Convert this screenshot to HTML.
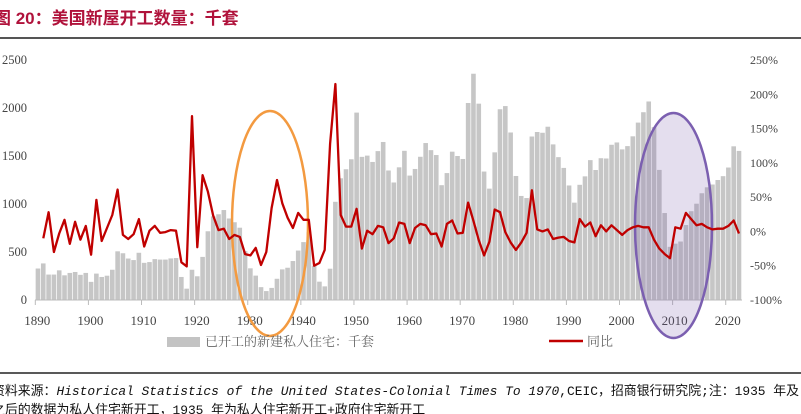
<!DOCTYPE html>
<html><head><meta charset="utf-8">
<style>
body{margin:0;width:801px;height:414px;overflow:hidden;background:#fff;font-family:"Liberation Serif","Noto Serif CJK SC",serif;}
svg{position:absolute;left:0;top:0}
</style></head>
<body>
<svg width="801" height="414" id="chart">
<text x="-6" y="24" font-size="17" font-weight="bold" fill="#b0123b" font-family="'Liberation Sans','Noto Sans CJK SC',sans-serif">图 20：美国新屋开工数量：千套</text>
<line x1="0" y1="38" x2="801" y2="38" stroke="#555" stroke-width="2"/>
<line x1="0" y1="373" x2="801" y2="373" stroke="#222" stroke-width="1.5"/>
<g id="bars"></g><g id="axes"></g>
<ellipse cx="270" cy="223.5" rx="38" ry="112.5" fill="none" stroke="#f39a40" stroke-width="2.5"/>
<ellipse cx="673.5" cy="225.5" rx="38.5" ry="112.5" fill="rgba(120,90,170,0.2)" stroke="#7b5fb0" stroke-width="2.5"/>
<g id="line"></g>
<rect x="167" y="337" width="33" height="10" fill="#c3c3c3"/>
<text x="205" y="346" font-size="13" fill="#666" font-family="'Liberation Serif','Noto Serif CJK SC',serif">已开工的新建私人住宅：千套</text>
<line x1="549" y1="341" x2="583" y2="341" stroke="#c00000" stroke-width="2.5"/>
<text x="587" y="346" font-size="13" fill="#666" font-family="'Liberation Serif','Noto Serif CJK SC',serif">同比</text>
<text x="-8" y="395" font-size="12.9" fill="#111" font-family="'Liberation Mono','Noto Sans CJK SC',monospace">资料来源：<tspan font-style="italic">Historical Statistics of the United States-Colonial Times To 1970</tspan>,CEIC，招商银行研究院;注：1935 年及</text>
<text x="-8" y="414" font-size="12.9" fill="#111" font-family="'Liberation Mono','Noto Sans CJK SC',monospace">之后的数据为私人住宅新开工，1935 年为私人住宅新开工+政府住宅新开工</text>
</svg>
<script>
const firstYear = 1890;
const starts = [328,381,265,265,309,257,282,292,262,282,189,275,240,253,315,507,487,432,416,492,387,395,426,421,421,433,437,240,118,315,247,449,716,871,893,937,849,810,753,509,330,254,134,93,126,221,319,336,406,515,603,706,356,191,142,326,1023,1268,1362,1466,1952,1491,1504,1438,1551,1646,1349,1224,1382,1554,1296,1365,1492,1635,1561,1510,1196,1322,1545,1500,1469,2052,2357,2045,1338,1160,1538,1987,2020,1745,1292,1084,1062,1703,1750,1742,1805,1621,1488,1376,1193,1014,1200,1288,1457,1354,1477,1474,1617,1641,1569,1603,1705,1848,1956,2068,1801,1355,906,554,587,609,781,925,1003,1112,1174,1203,1250,1290,1380,1601,1553];
const yoyFirstYear = 1891;
const yoy = [-10,28,-30,-3,17,-18,14,-12,8,-34,46,-14,5,24,61,-5,-11,-4,18,-22,1,8,-2,-1,2,1,-45,-51,168,-23,82,58,23,2,4,-11,-5,-8,-33,-35,-24,-49,-30,34,75,41,20,5,27,17,17,-50,-46,-27,128,215,24,7,7,33,-25,1,-4,8,6,-17,-10,13,11,-17,5,11,9,-4,-3,-22,11,16,-3,-2,42,15,-13,-35,-15,32,28,-1,-16,-27,-16,-2,60,3,0,3,-11,-9,-8,-14,-16,18,7,13,-7,9,0,9,2,-5,2,6,8,6,6,-12,-25,-33,-39,6,4,27,18,9,11,6,3,4,4,8,16,-3];
const leftTicks = [0,500,1000,1500,2000,2500];
const rightTicks = ["-100%","-50%","0%","50%","100%","150%","200%","250%"];
const rightVals = [-100,-50,0,50,100,150,200,250];
const xTicks = [1890,1900,1910,1920,1930,1940,1950,1960,1970,1980,1990,2000,2010,2020];

const NS="http://www.w3.org/2000/svg";
const y0=300, yTop=60;
const xOf = yr => 35.3 + (yr-1890)*5.311;
const yL = v => y0 - v*(y0-yTop)/2500;
const yR = v => y0 - (v+100)*(y0-yTop)/350;
function mk(tag, attrs, parent){const e=document.createElementNS(NS,tag);for(const k in attrs)e.setAttribute(k,attrs[k]);parent.appendChild(e);return e;}
const gb=document.getElementById('bars'), ga=document.getElementById('axes'), gl=document.getElementById('line');
starts.forEach((v,i)=>{
  const yr=firstYear+i, cx=xOf(yr+0.5);
  const r=mk('rect',{x:cx-2.3,y:yL(v),width:4.6,height:y0-yL(v),fill:'#c6c6c6'},gb);
  
  
});
const ax=mk('line',{x1:35,y1:y0,x2:742,y2:y0,stroke:'#bbb','stroke-width':1},ga);


xTicks.forEach(t=>{
  const x=xOf(t);
  const tk=mk('line',{x1:x,y1:y0,x2:x,y2:y0+5,stroke:'#bbb'},ga);
  
  
  const tx=mk('text',{x:x+2,y:325,'font-size':13,fill:'#444','text-anchor':'middle'},ga);
  tx.textContent=t;
  
  
});
leftTicks.forEach(t=>{
  const tx=mk('text',{x:27,y:yL(t)+4,'font-size':12.5,fill:'#444','text-anchor':'end'},ga);
  tx.textContent=t;
  
  
});
rightVals.forEach((v,i)=>{
  const tx=mk('text',{x:750,y:yR(v)+4,'font-size':12,fill:'#444'},ga);
  tx.textContent=rightTicks[i];
  
  
});
const pts=yoy.map((v,i)=>xOf(yoyFirstYear+i+0.5).toFixed(1)+','+yR(v).toFixed(1)).join(' ');
const pl=mk('polyline',{points:pts,fill:'none',stroke:'#c00000','stroke-width':2.3,'stroke-linejoin':'round'},gl);


</script>
</body></html>
